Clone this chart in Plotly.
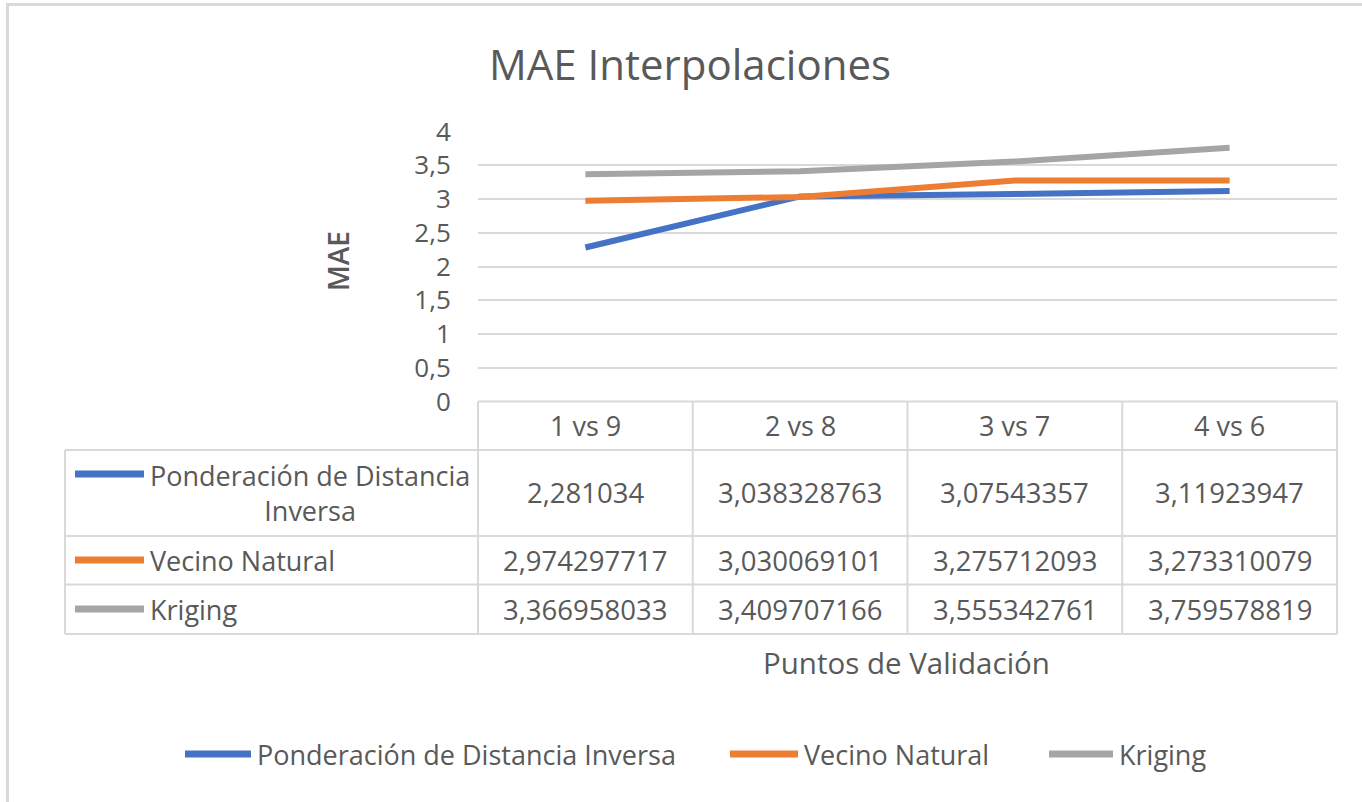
import plotly.graph_objects as go

# Validation point pairs (categories) and MAE per interpolation method
categorias = ["1 vs 9", "2 vs 8", "3 vs 7", "4 vs 6"]
series = ["Ponderación de Distancia Inversa", "Vecino Natural", "Kriging"]
idw = [2.281034, 3.038328763, 3.07543357, 3.11923947]
vecino = [2.974297717, 3.030069101, 3.275712093, 3.273310079]
kriging = [3.366958033, 3.409707166, 3.555342761, 3.759578819]
valores = [idw, vecino, kriging]
colores = ["#4472C4", "#ED7D31", "#A5A5A5"]
etiquetas_tabla = ["Ponderación de Distancia<br>Inversa", "Vecino Natural", "Kriging"]

W, H = 1362, 802
TXT = "#595959"
GRID = "#D9D9D9"
FONT = "Open Sans"


def px(x):
    return x / W


def py(y):
    return 1 - y / H


# plot area in pixels
X0, X1 = 478, 1337
Y_TOP, Y_BOT = 131.5, 401.5

fig = go.Figure()
for nombre, vals, col in zip(series, valores, colores):
    fig.add_trace(go.Scatter(
        x=categorias, y=vals, name=nombre, mode="lines",
        line=dict(color=col, width=6), showlegend=False,
    ))

shapes = []
annotations = []

# chart frame (top and left edges)
shapes.append(dict(type="line", xref="paper", yref="paper",
                   x0=px(6), x1=px(W), y0=py(4.5), y1=py(4.5),
                   line=dict(color=GRID, width=3)))
shapes.append(dict(type="line", xref="paper", yref="paper",
                   x0=px(7.5), x1=px(7.5), y0=py(3), y1=py(H),
                   line=dict(color=GRID, width=3)))

# data table grid
col_w = (X1 - X0) / len(categorias)
col_edges = [X0 + i * col_w for i in range(len(categorias) + 1)]
row_edges = [401.5, 450, 536, 584.5, 634]
T_LEFT = 65
for i, y in enumerate(row_edges):
    x_start = X0 if i == 0 else T_LEFT
    shapes.append(dict(type="line", xref="paper", yref="paper",
                       x0=px(x_start), x1=px(X1), y0=py(y), y1=py(y),
                       line=dict(color=GRID, width=2)))
for x in col_edges:
    shapes.append(dict(type="line", xref="paper", yref="paper",
                       x0=px(x), x1=px(x), y0=py(row_edges[0]), y1=py(row_edges[-1]),
                       line=dict(color=GRID, width=2)))
shapes.append(dict(type="line", xref="paper", yref="paper",
                   x0=px(T_LEFT), x1=px(T_LEFT), y0=py(row_edges[1]), y1=py(row_edges[-1]),
                   line=dict(color=GRID, width=2)))

fs = 27
# header row with category names
for i, c in enumerate(categorias):
    annotations.append(dict(xref="paper", yref="paper",
                            x=px(col_edges[i] + col_w / 2), y=py((row_edges[0] + row_edges[1]) / 2),
                            text=c, showarrow=False, xanchor="center", yanchor="middle",
                            font=dict(family=FONT, size=fs, color=TXT)))

# value rows with legend keys
key_y = [474, 560, 609]
for r, (lab, vals, col) in enumerate(zip(etiquetas_tabla, valores, colores)):
    yc = (row_edges[r + 1] + row_edges[r + 2]) / 2
    shapes.append(dict(type="line", xref="paper", yref="paper",
                       x0=px(75), x1=px(144), y0=py(key_y[r]), y1=py(key_y[r]),
                       line=dict(color=col, width=7)))
    annotations.append(dict(xref="paper", yref="paper", x=px(148), y=py(yc),
                            text=lab, showarrow=False, xanchor="left", yanchor="middle",
                            align="center",
                            font=dict(family=FONT, size=fs, color=TXT)))
    for i, v in enumerate(vals):
        annotations.append(dict(xref="paper", yref="paper",
                                x=px(col_edges[i] + col_w / 2), y=py(yc),
                                text=str(v).replace(".", ","), showarrow=False,
                                xanchor="center", yanchor="middle",
                                font=dict(family=FONT, size=27.5, color=TXT)))

# title and axis titles
annotations.append(dict(xref="paper", yref="paper", x=px(690), y=py(63),
                        text="MAE Interpolaciones", showarrow=False,
                        xanchor="center", yanchor="middle",
                        font=dict(family=FONT, size=42, color=TXT)))
annotations.append(dict(xref="paper", yref="paper", x=px(338), y=py(261),
                        text="MAE", showarrow=False, textangle=-90,
                        xanchor="center", yanchor="middle",
                        font=dict(family=FONT, size=28, color=TXT, weight=600)))
annotations.append(dict(xref="paper", yref="paper", x=px(907), y=py(662),
                        text="Puntos de Validación", showarrow=False,
                        xanchor="center", yanchor="middle",
                        font=dict(family=FONT, size=29.5, color=TXT)))

# legend at the bottom
leg_keys = [(185, 251), (730, 798), (1049, 1113)]
for nombre, col, (a, b) in zip(series, colores, leg_keys):
    shapes.append(dict(type="line", xref="paper", yref="paper",
                       x0=px(a), x1=px(b), y0=py(754), y1=py(754),
                       line=dict(color=col, width=7)))
    annotations.append(dict(xref="paper", yref="paper", x=px(b + 4), y=py(754),
                            text=nombre, showarrow=False, xanchor="left", yanchor="middle",
                            font=dict(family=FONT, size=fs, color=TXT)))

fig.update_layout(
    width=W, height=H,
    margin=dict(l=0, r=0, t=0, b=0, autoexpand=False),
    paper_bgcolor="white", plot_bgcolor="white",
    separators=",.",
    showlegend=False,
    xaxis=dict(domain=[px(X0), px(X1)], type="category", range=[-0.5, 3.5],
               showticklabels=False, showgrid=False, zeroline=False, showline=False,
               automargin=False),
    yaxis=dict(domain=[py(Y_BOT), py(Y_TOP)], range=[0, 4], dtick=0.5, tick0=0,
               showgrid=True, gridcolor=GRID, gridwidth=1.5, zeroline=False, showline=False,
               ticks="outside", ticklen=21, tickcolor="rgba(0,0,0,0)", automargin=False,
               tickfont=dict(family=FONT, size=26, color=TXT)),
    shapes=shapes,
    annotations=annotations,
)

fig.write_html("out.html")
